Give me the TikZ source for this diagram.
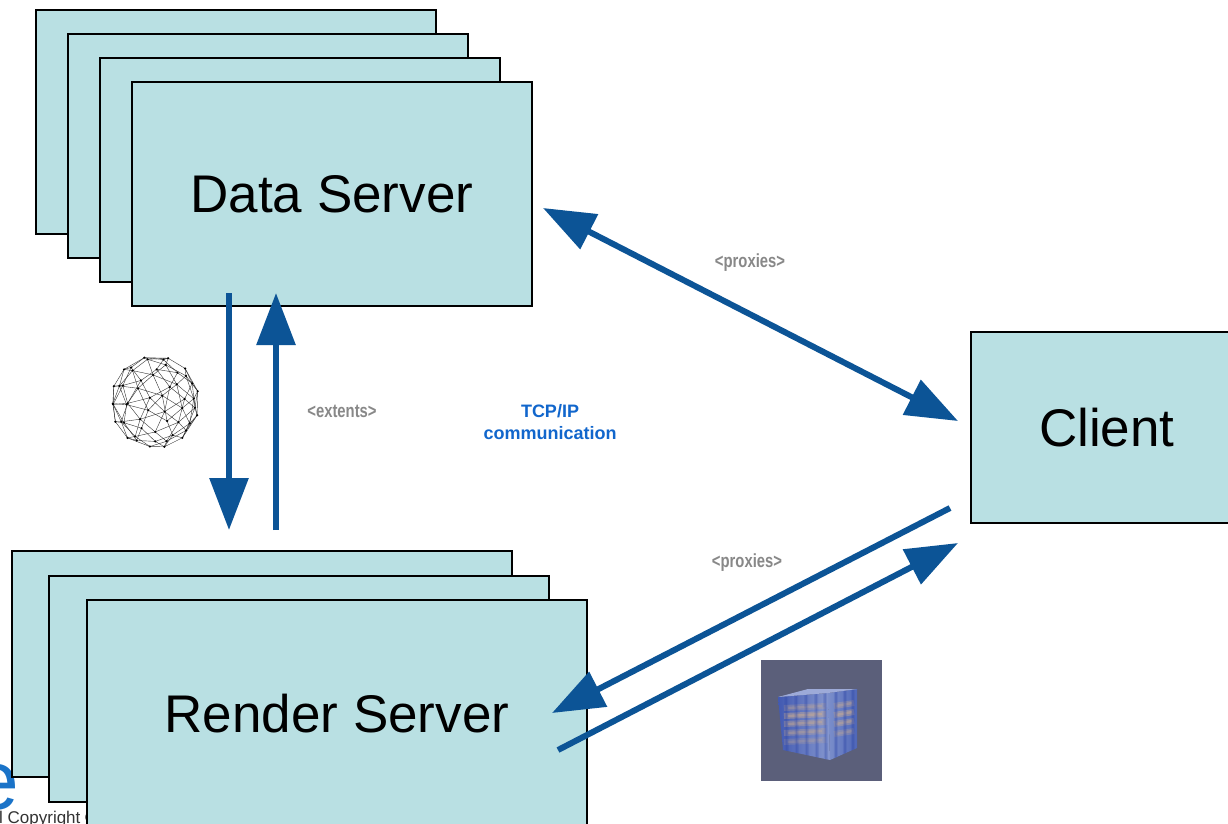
\documentclass[tikz,border=0pt]{standalone}
\usepackage{fontspec}
\setmainfont{Liberation Sans}
\usetikzlibrary{arrows.meta}

\definecolor{boxfill}{HTML}{B9E0E3}
\definecolor{flowblue}{HTML}{0C5496}
\definecolor{tagtext}{HTML}{888888}
\definecolor{nettext}{HTML}{1166CC}
\definecolor{logoblue}{HTML}{1A73C8}
\definecolor{imgback}{HTML}{5B5F7A}
\definecolor{cubeDeep}{HTML}{3E56B0}
\definecolor{cubeMid}{HTML}{7F92CC}
\definecolor{cubeLight}{HTML}{8A9BD0}
\definecolor{cubeRight}{HTML}{4A62B6}
\definecolor{cubeWarm}{HTML}{D2B08E}
\definecolor{cubeGrid}{HTML}{2E46A6}
\definecolor{cubeTop}{HTML}{9DAAD8}

\tikzset{
  srvbox/.style={draw=black, line width=1.8pt, fill=boxfill, anchor=north west,
    inner sep=0pt, font=\fontsize{53}{60}\selectfont},
  flow/.style={draw=flowblue, line width=6pt,
    -{Triangle[length=52pt,width=38pt]}},
  flowboth/.style={draw=flowblue, line width=6pt,
    {Triangle[length=52pt,width=38pt]}-{Triangle[length=52pt,width=38pt]}},
  tag/.style={text=tagtext, font=\bfseries\fontsize{19}{21}\selectfont, xscale=0.78, inner sep=0pt},
  nettag/.style={text=nettext, font=\bfseries\fontsize{18}{22}\selectfont, align=center, inner sep=0pt},
  mesh/.style={line width=0.4pt, draw=black!80},
}

\begin{document}
\begin{tikzpicture}[x=1pt,y=-1pt]
\useasboundingbox (0,0) rectangle (1228,823);
\fill[white] (0,0) rectangle (1228,823);

% logo fragment and copyright line in the lower-left corner
\node[anchor=base east, inner sep=0pt, text=logoblue,
  font=\fontsize{84}{84}\selectfont] (logo) at (19,809) {e};
\node[anchor=base west, inner sep=0pt, text=black!80,
  font=\fontsize{17}{20}\selectfont] (copy) at (-1,823.5) {l Copyright ©};

% data server stack
\node[srvbox, minimum width=400pt, minimum height=224pt] (d1) at (35,9) {};
\node[srvbox, minimum width=400pt, minimum height=224pt] (d2) at (67,33) {};
\node[srvbox, minimum width=400pt, minimum height=224pt] (d3) at (99,57) {};
\node[srvbox, minimum width=400pt, minimum height=224pt] (data) at (131,81) {Data Server};

% render server stack
\node[srvbox, minimum width=500pt, minimum height=226pt] (r1) at (11,550) {};
\node[srvbox, minimum width=500pt, minimum height=226pt] (r2) at (48,575) {};
\node[srvbox, minimum width=500pt, minimum height=228pt] (render) at (86,599) {Render Server};

% client
\node[srvbox, minimum width=272pt, minimum height=191pt] (client) at (970,331) {Client};

% connector end points
\coordinate (dsDownA) at (229,293);
\coordinate (dsDownB) at (229,530);
\coordinate (dsUpA) at (276,530);
\coordinate (dsUpB) at (276,293);
\coordinate (dcA) at (543,208);
\coordinate (dcB) at (958,421);
\coordinate (crA) at (950,508);
\coordinate (crB) at (552,713);
\coordinate (rcA) at (558,750);
\coordinate (rcB) at (958,543);

\draw[flow] (dsDownA) -- (dsDownB);
\draw[flow] (dsUpA) -- (dsUpB);
\draw[flowboth] (dcA) -- (dcB);
\draw[flow] (crA) -- (crB);
\draw[flow] (rcA) -- (rcB);

% labels
\node[tag] (tagTop) at (750,263) {<proxies>};
\node[tag] (tagBottom) at (747,563) {<proxies>};
\node[tag] (tagExtents) at (342,411) {<extents>};
\node[nettag] (net) at (550,422) {TCP/IP\\communication};

% wireframe sphere: Fibonacci points, neighbours joined by edges
\begin{scope}[shift={(155,402)}]
  \foreach \i in {0,...,53}{
    \pgfmathsetmacro\zz{1-(2*\i+1)/54}
    \pgfmathsetmacro\rr{sqrt(1-\zz*\zz)}
    \pgfmathsetmacro\th{137.508*\i}
    \pgfmathsetmacro\xx{\rr*cos(\th)}
    \pgfmathsetmacro\yy{\rr*sin(\th)}
    \expandafter\xdef\csname spx\i\endcsname{\xx}
    \expandafter\xdef\csname spy\i\endcsname{\yy}
    \expandafter\xdef\csname spz\i\endcsname{\zz}
    \pgfmathsetmacro\zp{\yy*sin(20)+\zz*cos(20)}
    \coordinate (s\i) at ({44*\xx},{-46*\zp});
  }
  \foreach \i in {0,...,52}{
    \pgfmathtruncatemacro\ja{\i+1}
    \edef\ax{\csname spx\i\endcsname}
    \edef\ay{\csname spy\i\endcsname}
    \edef\az{\csname spz\i\endcsname}
    \foreach \j in {\ja,...,53}{
      \edef\bx{\csname spx\j\endcsname}
      \edef\by{\csname spy\j\endcsname}
      \edef\bz{\csname spz\j\endcsname}
      \pgfmathsetmacro\dd{(\ax-\bx)^2+(\ay-\by)^2+(\az-\bz)^2}
      \ifdim\dd pt<0.36pt
        \draw[mesh] (s\i) -- (s\j);
      \fi
    }
  }
  \foreach \i in {0,...,53}{
    \fill[black] (s\i) circle (1.2pt);
  }
\end{scope}

% rendered image of a volume cube
\fill[imgback] (761,660) rectangle (882,781);
\coordinate (cA) at (778,697);
\coordinate (cB) at (828,693);
\coordinate (cC) at (830,760);
\coordinate (cD) at (783,750);
\coordinate (cE) at (857,689);
\coordinate (cF) at (857,748);
\coordinate (cG) at (808,689);
\begin{scope}
  \clip (cA) -- (cB) -- (cC) -- (cD) -- cycle;
  \shade[left color=cubeDeep, right color=cubeLight] (775,685) rectangle (832,762);
  \foreach \yy/\op in {708/0.25,716/0.4,724/0.35,733/0.3,742/0.2}{
    \draw[line width=6pt, draw=cubeWarm, opacity=\op] (784,\yy) -- (826,\yy-2);
    \draw[line width=2.5pt, draw=cubeWarm, opacity=\op] (788,\yy) -- (822,\yy-2);
  }
  \foreach \xx in {786,796,806,816,825}{
    \draw[line width=4pt, draw=cubeGrid, opacity=0.18] (\xx,690) -- (\xx+1,762);
    \draw[line width=1.5pt, draw=cubeGrid, opacity=0.25] (\xx,690) -- (\xx+1,762);
  }
\end{scope}
\begin{scope}
  \clip (cB) -- (cE) -- (cF) -- (cC) -- cycle;
  \shade[left color=cubeMid, right color=cubeRight] (826,685) rectangle (860,762);
  \foreach \yy/\op in {706/0.3,715/0.4,724/0.35,734/0.25}{
    \draw[line width=6pt, draw=cubeWarm, opacity=\op] (834,\yy) -- (854,\yy-3);
    \draw[line width=2.5pt, draw=cubeWarm, opacity=\op] (836,\yy) -- (852,\yy-3);
  }
  \foreach \xx in {836,845,853}{
    \draw[line width=4pt, draw=cubeGrid, opacity=0.18] (\xx,685) -- (\xx,762);
    \draw[line width=1.5pt, draw=cubeGrid, opacity=0.25] (\xx,685) -- (\xx,762);
  }
\end{scope}
\fill[cubeTop] (cA) -- (cG) -- (cE) -- (cB) -- cycle;
\end{tikzpicture}
\end{document}
